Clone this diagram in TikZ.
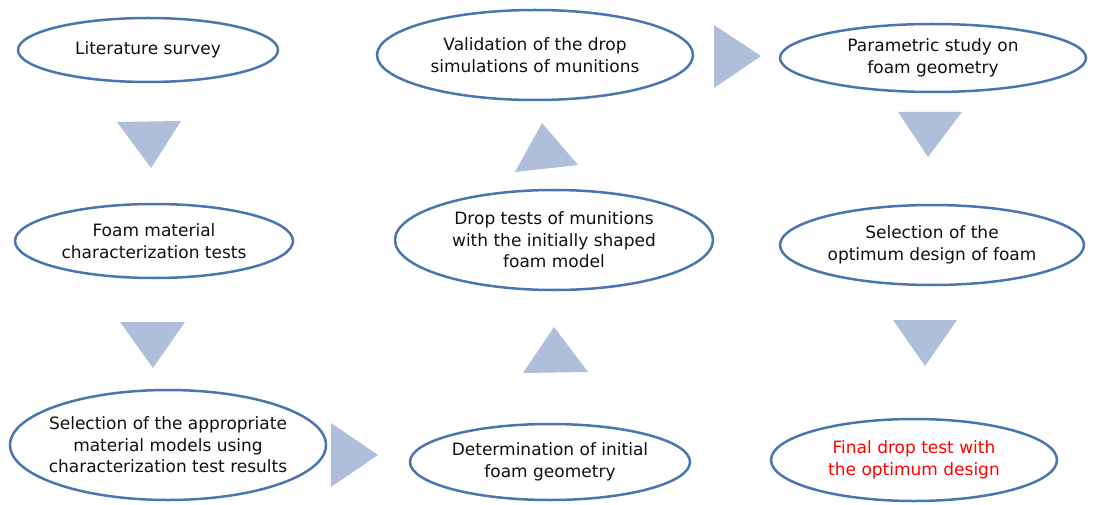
\documentclass[tikz,border=0pt]{standalone}
\usepackage{fontspec}
\setmainfont{DejaVu Sans}
\usetikzlibrary{shapes.geometric}
\definecolor{edgeblue}{HTML}{4A76AE}
\definecolor{trifill}{HTML}{AFBFDB}
\definecolor{txt}{HTML}{111111}
\tikzset{
  oval/.style={ellipse, draw=edgeblue, line width=2.5pt, fill=white, inner sep=-40pt,
    align=center, text=txt, font=\fontsize{17}{21.5}\selectfont},
  tri/.style={fill=trifill, draw=none}
}
\begin{document}
\begin{tikzpicture}[x=1pt,y=-1pt]
\useasboundingbox (0,0) rectangle (1094,505);
\node[oval, minimum width=260, minimum height=64] (lit) at (148,50) {Literature survey};
\node[oval, minimum width=278, minimum height=74] (foam) at (154,241) {Foam material\\characterization tests};
\node[oval, minimum width=316, minimum height=110] (sel) at (168,445) {Selection of the appropriate\\material models using\\characterization test results};
\node[oval, minimum width=280, minimum height=76] (det) at (550,462) {Determination of initial\\foam geometry};
\node[oval, minimum width=318, minimum height=100] (drop) at (554,240) {Drop tests of munitions\\with the initially shaped\\foam model};
\node[oval, minimum width=316, minimum height=90] (val) at (535,55) {Validation of the drop\\simulations of munitions};
\node[oval, minimum width=306, minimum height=68] (par) at (933,58) {Parametric study on\\foam geometry};
\node[oval, minimum width=304, minimum height=80] (opt) at (932,245) {Selection of the\\optimum design of foam};
\node[oval, minimum width=286, minimum height=82, text=red] (fin) at (914,460) {Final drop test with\\the optimum design};
% arrow triangles
\fill[tri] (117,122) -- (181,121) -- (151,168) -- cycle;
\fill[tri] (120,322) -- (185,322) -- (153,368) -- cycle;
\fill[tri] (331,423) -- (331,487) -- (378,455) -- cycle;
\fill[tri] (523,373) -- (588,372) -- (554,327) -- cycle;
\fill[tri] (515,172) -- (578,165) -- (542,123) -- cycle;
\fill[tri] (714,25) -- (714,88) -- (761,56) -- cycle;
\fill[tri] (898,112) -- (962,112) -- (928,157) -- cycle;
\fill[tri] (893,320) -- (957,320) -- (925,366) -- cycle;
\end{tikzpicture}
\end{document}
